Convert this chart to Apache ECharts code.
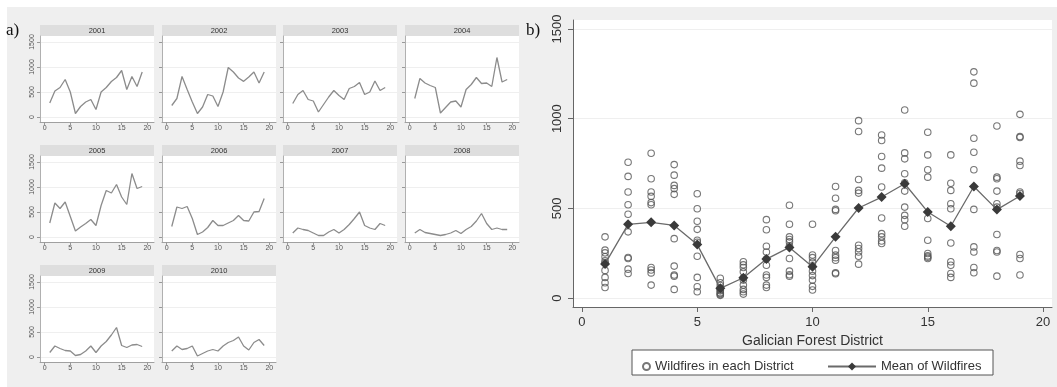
<!DOCTYPE html>
<html>
<head>
<meta charset="utf-8">
<script src="https://cdn.jsdelivr.net/npm/echarts@6/dist/echarts.min.js"></script>
<style>
  html, body { margin: 0; padding: 0; background: #fff; }
  #main { width: 1057px; height: 387px; }
</style>
</head>
<body>
<div id="main"></div>
<script>
const districts = [1, 2, 3, 4, 5, 6, 7, 8, 9, 10, 11, 12, 13, 14, 15, 16, 17, 18, 19];
const years = ['2001', '2002', '2003', '2004', '2005', '2006', '2007', '2008', '2009', '2010'];

// wildfires per district, one list per year (panel a)
const fires2001 = [280, 520, 590, 750, 500, 70, 210, 300, 350, 150, 500, 590, 710, 790, 930, 550, 810, 610, 900];
const fires2002 = [230, 370, 810, 550, 300, 70, 200, 450, 420, 210, 500, 990, 900, 780, 713, 800, 900, 680, 900];
const fires2003 = [270, 450, 530, 350, 320, 100, 250, 400, 530, 430, 350, 570, 610, 690, 450, 500, 720, 530, 590];
const fires2004 = [370, 770, 680, 630, 590, 80, 190, 300, 320, 200, 550, 650, 790, 670, 680, 610, 1190, 700, 750];
const fires2005 = [280, 680, 570, 700, 410, 120, 200, 270, 350, 230, 630, 930, 880, 1050, 800, 650, 1270, 970, 1010];
const fires2006 = [210, 600, 570, 610, 370, 50, 100, 190, 330, 230, 230, 280, 330, 430, 330, 320, 500, 510, 770];
const fires2007 = [80, 180, 150, 130, 80, 30, 30, 100, 150, 80, 150, 250, 370, 500, 230, 180, 150, 270, 230];
const fires2008 = [80, 150, 90, 70, 50, 30, 50, 80, 130, 70, 150, 210, 320, 470, 270, 150, 180, 150, 150];
const fires2009 = [90, 220, 170, 130, 120, 30, 50, 120, 220, 90, 220, 310, 440, 590, 230, 190, 240, 250, 210];
const fires2010 = [120, 220, 150, 170, 220, 20, 70, 120, 150, 120, 220, 290, 330, 400, 220, 140, 290, 350, 230];
const firesByYear = [fires2001, fires2002, fires2003, fires2004, fires2005, fires2006, fires2007, fires2008, fires2009, fires2010];

// circles of panel b, one list per district
const wildfiresByDistrict = [
  [341, 267, 252, 230, 207, 195, 154, 115, 85, 59],
  [757, 678, 591, 520, 467, 369, 226, 220, 161, 137],
  [807, 665, 591, 567, 532, 520, 170, 156, 140, 72],
  [744, 685, 628, 610, 578, 331, 178, 128, 122, 48],
  [581, 498, 428, 383, 322, 311, 233, 115, 63, 35],
  [110, 85, 70, 55, 45, 40, 30, 25, 20, 15],
  [202, 185, 170, 146, 113, 100, 72, 48, 35, 22],
  [437, 381, 289, 257, 217, 183, 128, 115, 72, 59],
  [517, 411, 341, 326, 313, 290, 220, 150, 130, 122],
  [411, 240, 225, 200, 180, 150, 125, 100, 65, 45],
  [622, 556, 494, 487, 265, 239, 225, 211, 141, 136],
  [989, 928, 661, 600, 585, 294, 276, 257, 233, 189],
  [909, 878, 789, 724, 619, 446, 359, 341, 318, 304],
  [1048, 809, 776, 693, 643, 596, 507, 461, 437, 400],
  [924, 798, 715, 674, 443, 322, 248, 235, 228, 220],
  [798, 640, 600, 526, 498, 307, 202, 183, 137, 115],
  [1261, 1198, 891, 813, 715, 494, 285, 257, 170, 141],
  [959, 674, 665, 596, 526, 507, 354, 265, 257, 122],
  [1024, 900, 895, 763, 739, 591, 583, 243, 220, 128]
];
const meanWildfires = [190, 411, 422, 405, 298, 54, 113, 217, 282, 174, 341, 502, 563, 637, 480, 400, 622, 493, 569];

const xTicks = [0, 5, 10, 15, 20];
const yTicks = [0, 500, 1000, 1500];

const font = 'Liberation Sans, Arial, sans-serif';
const plain = v => String(v);
const chart = echarts.init(document.getElementById('main'), null, { renderer: 'canvas' });

// small multiples layout
const colLeft = [40, 162, 283, 405];
const rowTop = [36, 156, 276];
const facetW = 114, facetH = 86, headH = 11;

const grids = [], xAxes = [], yAxes = [], series = [], graphics = [];

graphics.push({ type: 'rect', shape: { x: 7, y: 7, width: 1050, height: 380 }, style: { fill: '#efefef' }, z: -10, silent: true });

years.forEach((yr, i) => {
  const c = i % 4, r = Math.floor(i / 4);
  grids.push({
    left: colLeft[c], top: rowTop[r], width: facetW, height: facetH,
    show: true, backgroundColor: '#fff', borderWidth: 0
  });
  xAxes.push({
    type: 'value', gridIndex: i, min: -0.9, max: 21.3,
    axisLine: { onZero: false, lineStyle: { color: '#a0a0a0', width: 1 } },
    axisTick: { length: 3, lineStyle: { color: '#999' }, customValues: xTicks },
    axisLabel: { fontSize: 7, color: '#555', margin: 3, fontFamily: font, customValues: xTicks, formatter: plain },
    splitLine: { show: false }
  });
  yAxes.push({
    type: 'value', gridIndex: i, min: -100, max: 1620,
    axisLine: { onZero: false, show: true, lineStyle: { color: '#b0b0b0', width: 1 } },
    axisTick: { show: true, length: 3, lineStyle: { color: '#999' }, customValues: yTicks },
    axisLabel: { show: c === 0, rotate: 90, fontSize: 7, color: '#555', margin: 4, fontFamily: font, customValues: yTicks, formatter: plain },
    splitLine: { show: true, lineStyle: { color: '#efefef', width: 1 } }
  });
  series.push({
    type: 'line', xAxisIndex: i, yAxisIndex: i, symbol: 'none', silent: true,
    lineStyle: { color: '#8c8c8c', width: 1.3 },
    data: districts.map((d, j) => [d, firesByYear[i][j]])
  });
  graphics.push({ type: 'rect', shape: { x: colLeft[c], y: rowTop[r] - headH, width: facetW, height: headH }, style: { fill: '#dedede' }, z: -5, silent: true });
  graphics.push({ type: 'text', x: colLeft[c] + facetW / 2, y: rowTop[r] - headH / 2,
    style: { text: yr, fill: '#333', font: '7.5px ' + font, textAlign: 'center', textVerticalAlign: 'middle' }, silent: true });
});

// panel b
const bi = years.length;
grids.push({ left: 573, top: 20, width: 479, height: 287, show: true, backgroundColor: '#fff', borderWidth: 0 });
xAxes.push({
  type: 'value', gridIndex: bi, min: -0.39, max: 20.39,
  name: 'Galician Forest District', nameLocation: 'middle', nameGap: 22,
  nameTextStyle: { fontSize: 14, color: '#333', fontFamily: font },
  axisLine: { onZero: false, lineStyle: { color: '#666', width: 1 } },
  axisTick: { length: 5, lineStyle: { color: '#666' }, customValues: xTicks },
  axisLabel: { fontSize: 13, color: '#333', margin: 9, fontFamily: font, customValues: xTicks, formatter: plain },
  splitLine: { show: false }
});
yAxes.push({
  type: 'value', gridIndex: bi, min: -50, max: 1550,
  axisLine: { onZero: false, show: true, lineStyle: { color: '#666', width: 1 } },
  axisTick: { show: true, length: 5, lineStyle: { color: '#666' }, customValues: yTicks },
  axisLabel: { rotate: 90, fontSize: 13, color: '#333', margin: 9, fontFamily: font, customValues: yTicks, formatter: plain },
  splitLine: { show: true, lineStyle: { color: '#efefef', width: 1 } }
});
const points = [];
wildfiresByDistrict.forEach((vals, j) => vals.forEach(v => points.push([districts[j], v])));
series.push({
  name: 'Wildfires in each District', type: 'scatter', xAxisIndex: bi, yAxisIndex: bi,
  symbol: 'circle', symbolSize: 6.5, silent: true,
  itemStyle: { color: 'rgba(255,255,255,0)', borderColor: '#555', borderWidth: 1.1 },
  data: points
});
series.push({
  name: 'Mean of Wildfires', type: 'line', xAxisIndex: bi, yAxisIndex: bi,
  symbol: 'diamond', symbolSize: 10, silent: true, z: 3,
  itemStyle: { color: '#3a3a3a' },
  lineStyle: { color: '#6a6a6a', width: 1.3 },
  data: districts.map((d, j) => [d, meanWildfires[j]])
});

graphics.push({ type: 'rect', shape: { x: 632, y: 350, width: 361, height: 25 }, style: { fill: '#fff', stroke: '#555', lineWidth: 1 }, silent: true });
graphics.push({ type: 'text', x: 6, y: 31, style: { text: 'a)', fill: '#111', font: '17px Liberation Serif, Times New Roman, serif', textVerticalAlign: 'middle' }, silent: true });
graphics.push({ type: 'text', x: 526, y: 31, style: { text: 'b)', fill: '#111', font: '17px Liberation Serif, Times New Roman, serif', textVerticalAlign: 'middle' }, silent: true });

chart.setOption({
  backgroundColor: '#fff',
  animation: false,
  grid: grids,
  xAxis: xAxes,
  yAxis: yAxes,
  series: series,
  graphic: graphics,
  legend: [
    {
      data: ['Wildfires in each District'], left: 637, top: 355, itemWidth: 7, itemHeight: 7,
      itemGap: 5, selectedMode: false, textStyle: { fontSize: 13, color: '#333', fontFamily: font }
    },
    {
      data: ['Mean of Wildfires'], left: 822, top: 355, itemWidth: 48, itemHeight: 10,
      selectedMode: false, textStyle: { fontSize: 13, color: '#333', fontFamily: font }
    }
  ]
});
</script>
</body>
</html>
